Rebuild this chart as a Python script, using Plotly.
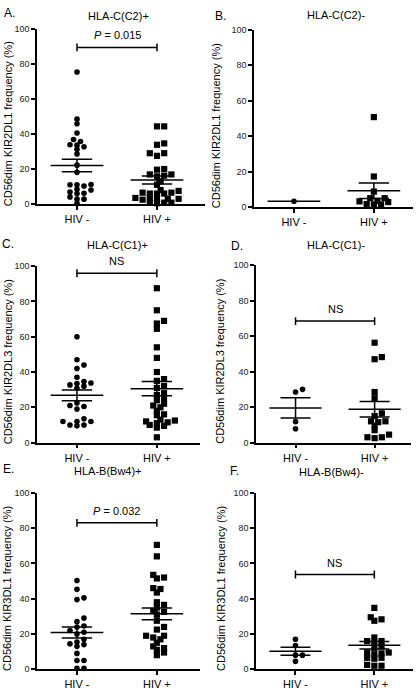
import numpy as np
import plotly.graph_objects as go

# ---------------- data (values in %) ----------------
categories = ["HIV -", "HIV +"]
y_ticks = [0, 20, 40, 60, 80, 100]

A_hiv_neg = [75.3, 48.4, 45.8, 40.5, 35.7, 36.8, 33.6, 33.8, 32.7, 31.2, 28.6, 22.2, 18.1,
             11.2, 10.3, 11.0, 11.0, 8.4, 8.0, 6.0, 6.2, 6.9, 4.1, 2.8, 2.8, 0.4]
A_hiv_pos = [44.3, 44.3, 33.8, 34.6, 29.0, 27.5, 29.0, 20.0, 19.6, 16.9, 16.2, 15.8, 16.9,
             13.0, 11.0, 7.5, 6.5, 6.0, 6.0, 6.0, 6.5, 8.0, 3.5, 3.0, 2.5, 3.0, 3.0, 3.5,
             0.8, 0.8, 0.5, 0.8]

B_hiv_neg = [3.3]
B_hiv_pos = [50.7, 17.2, 8.7, 5.0, 5.0, 3.2, 2.8, 3.5, 1.7, 1.5, 1.5]

C_hiv_neg = [60.0, 47.0, 42.0, 44.0, 37.0, 33.8, 32.7, 30.8, 32.0, 33.5, 34.6,
             22.5, 21.0, 20.5, 19.0, 13.5, 12.0, 10.0, 9.5, 10.0, 12.0, 12.0]
C_hiv_pos = [87.5, 75.0, 69.0, 67.5, 64.5, 54.0, 48.0, 40.0, 36.0, 35.0, 32.0, 31.0, 28.0,
             27.0, 25.0, 24.0, 22.0, 21.0, 20.0, 18.0, 16.0, 15.5, 13.0, 12.5, 12.0, 11.5,
             11.0, 10.0, 9.5, 8.5, 3.0]

D_hiv_neg = [30.0, 28.5, 11.8, 7.8]
D_hiv_pos = [56.3, 48.2, 47.0, 28.5, 25.0, 16.5, 15.0, 12.0, 12.0, 11.5, 9.5, 7.0, 4.5,
             3.0, 3.0, 2.5]

E_hiv_neg = [50.3, 45.3, 39.5, 40.5, 29.0, 27.0, 24.5, 24.0, 22.0, 21.0, 20.0, 17.0, 15.5,
             14.5, 13.0, 14.0, 9.0, 5.0, 5.0, 0.5, 0.5]
E_hiv_pos = [70.5, 64.0, 53.5, 51.5, 52.0, 45.5, 43.5, 46.0, 36.5, 38.0, 35.0, 33.0, 32.5,
             31.0, 27.5, 24.0, 22.5, 19.0, 18.0, 19.0, 17.0, 15.0, 13.0, 12.0, 11.0, 9.5, 8.0]

F_hiv_neg = [17.0, 13.5, 8.0, 8.0, 4.5]
F_hiv_pos = [34.8, 29.5, 27.5, 28.3, 18.0, 15.0, 16.0, 16.0, 13.0, 12.0, 9.0, 9.5, 9.5,
             8.5, 6.5, 6.5, 6.0, 2.5, 2.0, 2.0]

panel_letters = ["A.", "B.", "C.", "D.", "E.", "F."]
panel_titles = ["HLA-C(C2)+", "HLA-C(C2)-", "HLA-C(C1)+", "HLA-C(C1)-", "HLA-B(Bw4)+", "HLA-B(Bw4)-"]
y_titles = ["CD56dim KIR2DL1 frequency (%)", "CD56dim KIR2DL1 frequency (%)",
            "CD56dim KIR2DL3 frequency (%)", "CD56dim KIR2DL3 frequency (%)",
            "CD56dim KIR3DL1 frequency (%)", "CD56dim KIR3DL1 frequency (%)"]
stat_labels = ["<i>P</i> = 0.015", None, "NS", "NS", "<i>P</i> = 0.032", "NS"]

groups = [(A_hiv_neg, A_hiv_pos), (B_hiv_neg, B_hiv_pos), (C_hiv_neg, C_hiv_pos),
          (D_hiv_neg, D_hiv_pos), (E_hiv_neg, E_hiv_pos), (F_hiv_neg, F_hiv_pos)]

# ---------------- layout geometry (pixels) ----------------
W, H = 416, 693
FONT = "Liberation Sans, Arial, sans-serif"
# (x_left, x_right, y_top(100), y_bottom(0), x_range_right, px_per_cat)
geom = [
    (37, 205, 24, 202, 1.60, 80),
    (254, 413, 25, 205, 1.49, 80),
    (37, 200, 265, 444, 1.54, 80),
    (256, 411, 264, 444, 1.46, 79),
    (37, 200, 495, 674, 1.54, 80),
    (256, 413, 495, 674, 1.49, 79),
]
bracket_y = [89.3, None, 96.0, 68.5, 83.0, 53.7]
title_pos = [(118, 11), (336, 10), (117, 244), (336, 244), (108, 473), (331, 474)]
letter_pos = [(2, 8), (213, 11), (0, 243), (229, 245), (1, 471), (228, 473)]
ytitle_x = [8, 216, 8, 220, 7, 221]


def beeswarm(vals, px_x, px_y, sx, sy):
    """Deterministic dot-plot spreading: each point takes the nearest free
    horizontal slot so that markers do not collide (elliptical footprint)."""
    vals = np.asarray(vals, dtype=float)
    order = np.argsort(vals)
    placed = []
    offs = np.zeros(len(vals))
    step = sx * 0.5
    cands = [0.0]
    for k in range(1, 80):
        cands += [k * step, -k * step]
    for i in order:
        ypx = vals[i] * px_y
        for c in cands:
            ok = True
            for (px, py) in placed:
                if ((px - c) / sx) ** 2 + ((py - ypx) / sy) ** 2 < 1.0:
                    ok = False
                    break
            if ok:
                placed.append((c, ypx))
                offs[i] = c / px_x
                break
    return offs


fig = go.Figure()
annotations = []
shapes = []
layout_axes = {}

for p in range(6):
    xl, xr, yt, yb, xmax, ppc = geom[p]
    ax = "" if p == 0 else str(p + 1)
    xa, ya = "x" + ax, "y" + ax
    px_y = (yb - yt) / 100.0
    layout_axes["xaxis" + ax] = dict(
        domain=[xl / W, xr / W], range=[-0.5, xmax], anchor=ya,
        tickmode="array", tickvals=[0, 1], ticktext=categories,
        showline=True, linecolor="black", linewidth=1.5,
        ticks="outside", ticklen=4, tickwidth=1.5, tickcolor="black",
        showgrid=False, zeroline=False, fixedrange=True,
        tickfont=dict(family=FONT, size=11, color="black"))
    layout_axes["yaxis" + ax] = dict(
        domain=[1 - yb / H, 1 - yt / H], range=[0, 100], anchor=xa,
        tickmode="array", tickvals=y_ticks,
        showline=True, linecolor="black", linewidth=1.5,
        ticks="outside", ticklen=4, tickwidth=1.5, tickcolor="black",
        showgrid=False, zeroline=False, fixedrange=True,
        tickfont=dict(family=FONT, size=9, color="#222"))

    for gi, vals in enumerate(groups[p]):
        if gi == 0:
            offs = beeswarm(vals, ppc, px_y, 7.0, 4.2)
        else:
            offs = beeswarm(vals, ppc, px_y, 7.2, 4.0)
        fig.add_trace(go.Scatter(
            x=gi + offs, y=vals, xaxis=xa, yaxis=ya, mode="markers",
            marker=dict(symbol="circle" if gi == 0 else "square",
                        size=5.6 if gi == 0 else 6.2, color="black",
                        line=dict(width=0)),
            cliponaxis=False, showlegend=False, hoverinfo="y"))
        arr = np.asarray(vals, dtype=float)
        m = arr.mean()
        lx, ly = [gi - 0.33, gi + 0.33], [m, m]
        if len(arr) > 1:
            sem = arr.std(ddof=1) / np.sqrt(len(arr))
            lx += [None, gi - 0.19, gi + 0.19, None, gi - 0.19, gi + 0.19, None, gi, gi]
            ly += [None, m + sem, m + sem, None, m - sem, m - sem, None, m - sem, m + sem]
        fig.add_trace(go.Scatter(
            x=lx, y=ly, xaxis=xa, yaxis=ya, mode="lines",
            line=dict(color="black", width=1.5), cliponaxis=False,
            showlegend=False, hoverinfo="skip"))

    if bracket_y[p] is not None:
        b = bracket_y[p]
        tk = 4 / px_y
        for (x0, y0, x1, y1) in [(0, b, 1, b), (0, b - tk, 0, b + tk), (1, b - tk, 1, b + tk)]:
            shapes.append(dict(type="line", xref=xa, yref=ya, x0=x0, y0=y0, x1=x1, y1=y1,
                               line=dict(color="black", width=1.5)))
        annotations.append(dict(x=0.5, y=b, xref=xa, yref=ya, text=stat_labels[p],
                                showarrow=False, yanchor="bottom", yshift=4,
                                font=dict(family=FONT, size=11, color="black")))

    tx, ty = title_pos[p]
    annotations.append(dict(x=tx / W, y=1 - ty / H, xref="paper", yref="paper",
                            text=panel_titles[p], showarrow=False,
                            xanchor="center", yanchor="middle",
                            font=dict(family=FONT, size=11, color="black")))
    lx_, ly_ = letter_pos[p]
    annotations.append(dict(x=lx_ / W, y=1 - ly_ / H, xref="paper", yref="paper",
                            text=panel_letters[p], showarrow=False,
                            xanchor="left", yanchor="middle",
                            font=dict(family=FONT, size=12, color="black")))
    annotations.append(dict(x=ytitle_x[p] / W, y=1 - ((yt + yb) / 2 + 8) / H,
                            xref="paper", yref="paper", text=y_titles[p],
                            textangle=-90, showarrow=False,
                            xanchor="center", yanchor="middle",
                            font=dict(family=FONT, size=11, color="black")))

fig.update_layout(
    width=W, height=H, autosize=False,
    margin=dict(l=0, r=0, t=0, b=0),
    paper_bgcolor="white", plot_bgcolor="white",
    annotations=annotations, shapes=shapes,
    **layout_axes)

fig.write_html("out.html", config={"displayModeBar": False},
               post_script="document.body.style.margin='0';")
